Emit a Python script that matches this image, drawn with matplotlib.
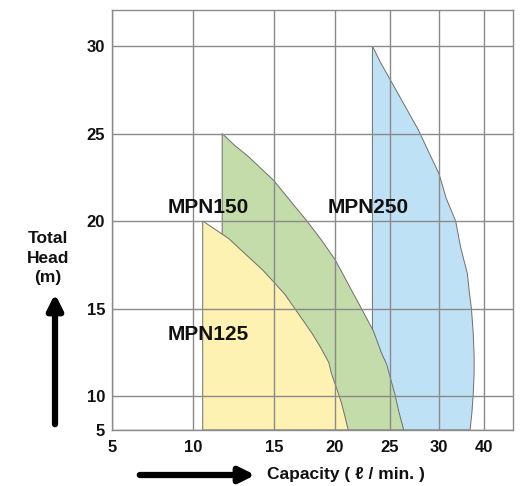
import numpy as np
import matplotlib
matplotlib.use("Agg")
import matplotlib.pyplot as plt

plt.rcParams['font.family'] = ['Liberation Sans', 'DejaVu Sans']
plt.rcParams['font.weight'] = 'bold'

# pump curves (capacity l/min, total head m)
mpn125_q = [10.6, 10.6, 11.4, 12.2, 12.9, 13.6, 14.3, 15.0, 15.9, 16.7, 17.4, 18.1,
            18.8, 19.5, 19.7, 20.0, 20.3, 20.6, 20.9, 21.2]
mpn125_h = [5, 20.0, 19.5, 19.0, 18.4, 17.8, 17.2, 16.5, 15.8, 15.0, 14.3, 13.6,
            12.8, 11.9, 11.3, 10.7, 10.15, 8.9, 7.0, 5]
mpn150_q = [11.8, 11.8, 12.6, 13.4, 14.2, 15.0, 16.4, 17.7, 18.9, 20.0, 21.2, 22.4,
            23.5, 24.2, 24.7, 25.1, 25.5, 25.9, 26.4]
mpn150_h = [5, 25.0, 24.3, 23.7, 23.0, 22.3, 21.1, 20.0, 18.9, 17.8, 16.4, 15.0,
            13.7, 12.5, 11.8, 10.9, 10.1, 7.7, 5]
mpn250_q = [23.4, 23.4, 24.1, 25.0, 26.4, 27.9, 28.9, 30.0, 31.6, 33.7, 34.8, 36.3,
            36.7, 37.2, 37.6, 37.8, 37.8, 37.6, 37.3, 36.9]
mpn250_h = [5, 30.0, 29.1, 28.1, 26.7, 25.2, 24.0, 22.7, 21.3, 20.0, 18.5, 17.0,
            16.0, 15.0, 13.6, 12.3, 11.3, 10.1, 7.5, 5]

x_ticks = [5, 10, 15, 20, 25, 30, 40]
y_ticks = [5, 10, 15, 20, 25, 30]

# uneven axis scales of the original chart
xk = [0, 5, 10, 15, 20, 25, 30, 40, 50]
xp = [-81, 0, 81, 162, 223, 278, 327, 372, 417]
yk = [0, 5, 10, 15, 20, 25, 30, 35]
yp = [-34, 0, 34, 121.5, 209, 296.5, 384, 471.5]

def xf(v): return np.interp(v, xk, xp)
def xi(v): return np.interp(v, xp, xk)
def yf(v): return np.interp(v, yk, yp)
def yi(v): return np.interp(v, yp, yk)

fig = plt.figure(figsize=(5.26, 4.86), dpi=100)
ax = fig.add_axes([112/526, 56/486, 401/526, 420/486])
ax.set_xscale('function', functions=(xf, xi))
ax.set_yscale('function', functions=(yf, yi))
ax.set_xlim(5, 46.44)
ax.set_ylim(5, 32.06)

edge = '#6e6e6e'
ax.fill(mpn250_q, mpn250_h, facecolor='#bfe1f6', edgecolor=edge, lw=0.7, zorder=1)
ax.fill(mpn150_q, mpn150_h, facecolor='#c3dcaa', edgecolor=edge, lw=0.7, zorder=1.1)
ax.fill(mpn125_q, mpn125_h, facecolor='#fdf2b2', edgecolor=edge, lw=0.7, zorder=1.2)

ax.set_axisbelow(False)
ax.grid(True, color='#8a8a8a', lw=1.0)
ax.set_xticks(x_ticks)
ax.set_yticks(y_ticks)
ax.xaxis.set_minor_locator(matplotlib.ticker.NullLocator())
ax.yaxis.set_minor_locator(matplotlib.ticker.NullLocator())
ax.set_xticklabels([str(t) for t in x_ticks])
ax.set_yticklabels([str(t) for t in y_ticks])
ax.tick_params(length=0, labelsize=12, labelcolor='#111111')
ax.tick_params(axis='x', pad=7)
ax.tick_params(axis='y', pad=5)
for s in ax.spines.values():
    s.set_color('#8a8a8a')
    s.set_linewidth(1.0)

lab = dict(fontsize=15, fontweight='bold', ha='center', va='center', color='#111111', zorder=3)
ax.text(10.93, 20.8, 'MPN150', **lab)
ax.text(23.05, 20.8, 'MPN250', **lab)
ax.text(10.93, 13.54, 'MPN125', **lab)

# axis titles with arrows
fig.text(48/526, 1 - 258/486, 'Total\nHead\n(m)', ha='center', va='center',
         fontsize=12.5, fontweight='bold', linespacing=1.35, color='#111111')
ax.annotate('', xy=(55, 486 - 291), xytext=(55, 486 - 427), xycoords='figure pixels',
            textcoords='figure pixels', annotation_clip=False,
            arrowprops=dict(arrowstyle='-|>,head_length=0.9,head_width=0.45', lw=4.5, color='black'))
ax.annotate('', xy=(258, 486 - 475), xytext=(137, 486 - 475), xycoords='figure pixels',
            textcoords='figure pixels', annotation_clip=False,
            arrowprops=dict(arrowstyle='-|>,head_length=0.9,head_width=0.45', lw=4.5, color='black'))
fig.text(267/526, 1 - 474/486, 'Capacity ( ℓ / min. )', ha='left', va='center',
         fontsize=12.5, fontweight='bold', color='#111111')

fig.savefig('out.png', dpi=100)
